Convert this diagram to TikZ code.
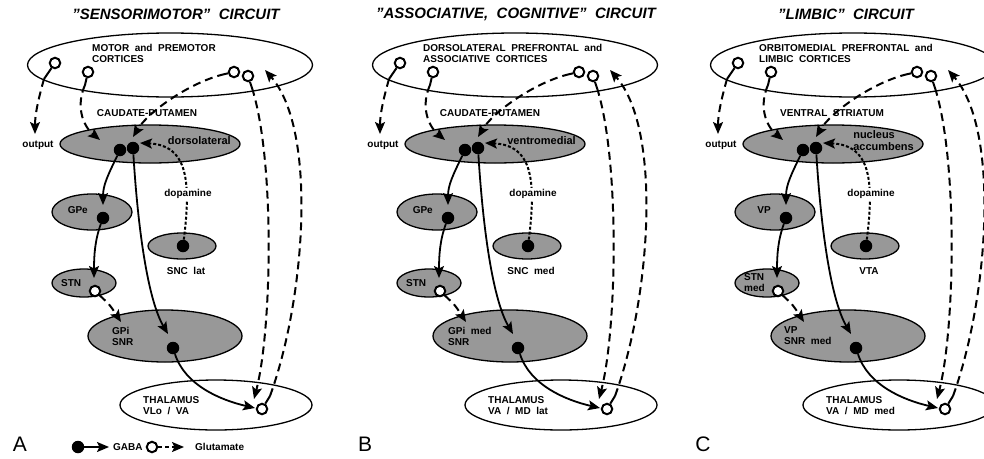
\documentclass[tikz,border=0pt]{standalone}
\usepackage{fontspec}
\setmainfont{Liberation Sans}
\usetikzlibrary{shapes.geometric,arrows.meta}
\definecolor{regiongray}{RGB}{152,152,152}
\tikzset{
  region/.style={ellipse, draw=black, line width=1.3pt, fill=regiongray, inner sep=0pt},
  openregion/.style={ellipse, draw=black, line width=1.3pt, fill=white, inner sep=0pt},
  lbl/.style={font=\fontsize{10}{11}\selectfont\bfseries, inner sep=0pt, align=left},
  biglbl/.style={font=\fontsize{11}{12}\selectfont\bfseries, inner sep=0pt, align=left},
  ttlstyle/.style={font=\fontsize{15}{17}\selectfont\bfseries\itshape, inner sep=0pt},
  letterstyle/.style={font=\fontsize{21}{24}\selectfont, inner sep=0pt},
  gabadot/.style={circle, fill=black, inner sep=0pt, minimum size=12.5pt},
  glucell/.style={circle, draw=black, line width=2pt, fill=white, inner sep=0pt, minimum size=10.5pt},
  tipped/.style={-{Stealth[length=12pt,width=10pt,inset=2.5pt]}},
  inhib/.style={tipped, line width=1.8pt},
  excit/.style={tipped, line width=2pt, dash pattern=on 8pt off 5pt},
  stemline/.style={line width=2pt},
  dopa/.style={tipped, line width=2pt, dash pattern=on 3pt off 2pt},
}
\newcommand\drawpanel[2]{%
\begin{scope}[xshift=#2]
  % regions
  \node[openregion, minimum width=285pt, minimum height=64pt] (#1ctx) at (170,65) {};
  \node[region, minimum width=180pt, minimum height=38pt] (#1str) at (150,144) {};
  \node[region, minimum width=80pt, minimum height=36pt] (#1gpe) at (92,212) {};
  \node[region, minimum width=68pt, minimum height=26pt] (#1snc) at (182,246) {};
  \node[region, minimum width=64pt, minimum height=28pt] (#1stn) at (84,283) {};
  \node[region, minimum width=154pt, minimum height=52pt] (#1gpi) at (165,336) {};
  \node[openregion, minimum width=192pt, minimum height=50pt] (#1thal) at (216,405) {};
  % labels
  \node[ttlstyle] (#1title) at (\ttlx,14) {\ttltext};
  \node[lbl, anchor=west] (#1ctxl) at (\ctxx,53) {\ctxtext};
  \node[lbl] (#1strl) at (\strx,113) {\strtext};
  \node[biglbl, anchor=east] (#1inl) at (231,141) {\intext};
  \node[lbl, anchor=east] (#1gpel) at (88,210) {\gpetext};
  \node[lbl] (#1sncl) at (186,271) {\snctext};
  \node[lbl, anchor=west] (#1stnl) at (61,283) {\stntext};
  \node[lbl, anchor=west] (#1gpil) at (\gpix,336) {\gpitext};
  \node[lbl, anchor=west] (#1thall) at (143,406) {\thaltext};
  \node[letterstyle] (#1letter) at (20,444) {\lettertext};
  \node[lbl] (#1outl) at (38,145) {output};
  % cells
  \node[glucell] (#1c1) at (55,63) {};
  \node[glucell] (#1c2) at (88,72) {};
  \node[glucell] (#1c3) at (234,72) {};
  \node[glucell] (#1c4) at (248,76) {};
  \node[gabadot] (#1d1) at (120,150) {};
  \node[gabadot] (#1d2) at (133,148) {};
  \node[gabadot] (#1g) at (103,218) {};
  \node[gabadot] (#1n) at (183,246) {};
  \node[glucell] (#1s) at (95,291) {};
  \node[gabadot] (#1p) at (173,348) {};
  \node[glucell] (#1t) at (262,409) {};
  % free ends
  \coordinate (#1s1) at (44,79);
  \coordinate (#1out) at (35,134);
  \coordinate (#1s2) at (85,85);
  \coordinate (#1a2) at (100,140);
  \coordinate (#1s3) at (225,74);
  \coordinate (#1a3) at (133,137);
  \coordinate (#1s4) at (252,88);
  \coordinate (#1a4) at (254,399);
  \coordinate (#1st) at (270,396);
  \coordinate (#1actx) at (265,70);
  \coordinate (#1agpe) at (103,205);
  \coordinate (#1astn) at (94,278);
  \coordinate (#1agpi) at (168,334);
  \coordinate (#1agpii) at (121,322);
  \coordinate (#1athal) at (255,408);
  \coordinate (#1ada) at (140,143);
  % connectors
  \draw[stemline] (#1c1) -- (#1s1);
  \draw[excit] (#1s1) .. controls (38,100) and (35,115) .. (#1out);
  \draw[stemline] (#1c2) -- (#1s2);
  \draw[excit] (#1s2) .. controls (76,105) and (82,125) .. (#1a2);
  \draw[stemline] (#1c3) -- (#1s3);
  \draw[excit] (#1s3) .. controls (190,82) and (148,112) .. (#1a3);
  \draw[stemline] (#1c4) -- (#1s4);
  \draw[excit] (#1s4) .. controls (275,160) and (272,330) .. (#1a4);
  \draw[stemline] (#1t) -- (#1st);
  \draw[excit] (#1st) .. controls (305,300) and (318,130) .. (#1actx);
  \draw[inhib] (#1d1) .. controls (108,175) and (103,185) .. (#1agpe);
  \draw[inhib] (#1d2) .. controls (138,230) and (148,300) .. (#1agpi);
  \draw[inhib] (#1g) .. controls (95,240) and (94,255) .. (#1astn);
  \draw[excit] (#1s) .. controls (110,305) .. (#1agpii);
  \draw[inhib] (#1p) .. controls (185,385) and (220,400) .. (#1athal);
  \draw[dopa] (#1n) .. controls (192,175) and (185,145) .. (#1ada);
  \node[lbl, fill=white, inner sep=1.5pt] (#1dal) at (188,194) {dopamine};
\end{scope}}
\begin{document}
\begin{tikzpicture}[x=1pt, y=-1pt]
\useasboundingbox (0,0) rectangle (984,458);
\fill[white] (0,0) rectangle (984,458);
% panel A
\def\ttlx{176}\def\ttltext{"SENSORIMOTOR"\ \ CIRCUIT}
\def\ctxx{92}\def\ctxtext{MOTOR\ \ and\ \ PREMOTOR\\CORTICES}
\def\strx{147}\def\strtext{CAUDATE-PUTAMEN}
\def\intext{dorsolateral}
\def\gpetext{GPe}\def\snctext{SNC\ \ lat}\def\stntext{STN}
\def\gpix{112}\def\gpitext{GPi\\SNR}
\def\thaltext{THALAMUS\\VLo\ \ /\ \ VA}
\def\lettertext{A}
\drawpanel{A}{0pt}
% panel B
\def\ttlx{171}\def\ttltext{"ASSOCIATIVE,\ \ COGNITIVE"\ \ CIRCUIT}
\def\ctxx{78}\def\ctxtext{DORSOLATERAL\ \ PREFRONTAL\ \ and\\ASSOCIATIVE\ \ CORTICES}
\def\strx{145}\def\strtext{CAUDATE-PUTAMEN}
\def\intext{ventromedial}
\def\gpetext{GPe}\def\snctext{SNC\ \ med}\def\stntext{STN}
\def\gpix{103}\def\gpitext{GPi\ \ med\\SNR}
\def\thaltext{THALAMUS\\VA\ \ /\ \ MD\ \ lat}
\def\lettertext{B}
\drawpanel{B}{345pt}
% panel C
\def\ttlx{163}\def\ttltext{"LIMBIC"\ \ CIRCUIT}
\def\ctxx{76}\def\ctxtext{ORBITOMEDIAL\ \ PREFRONTAL\ \ and\\LIMBIC\ \ CORTICES}
\def\strx{149}\def\strtext{VENTRAL\ \ STRIATUM}
\def\intext{nucleus\\accumbens}
\def\gpetext{VP}\def\snctext{VTA}\def\stntext{STN\\med}
\def\gpix{101}\def\gpitext{VP\\SNR\ \ med}
\def\thaltext{THALAMUS\\VA\ \ /\ \ MD\ \ med}
\def\lettertext{C}
\drawpanel{C}{683pt}
% legend
\node[gabadot] (Lg) at (78,447) {};
\coordinate (Lga) at (109,447);
\draw[inhib] (Lg) -- (Lga);
\node[lbl, anchor=west] (Lgl) at (113,447) {GABA};
\node[glucell] (Lu) at (152,447) {};
\coordinate (Lua) at (184,447);
\draw[excit, dash pattern=on 4pt off 3pt] (Lu) -- (Lua);
\node[lbl, anchor=west] (Lul) at (195,447) {Glutamate};
\end{tikzpicture}
\end{document}
